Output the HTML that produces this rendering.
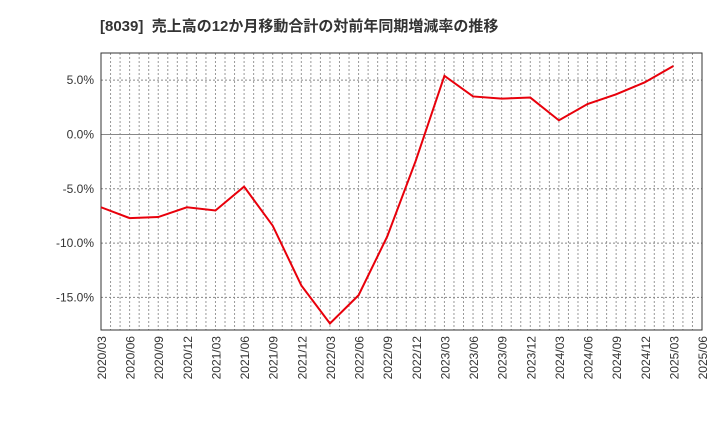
<!DOCTYPE html>
<html><head><meta charset="utf-8"><style>
body{margin:0;background:#fff;font-family:"Liberation Sans","Noto Sans CJK JP",sans-serif;}
</style></head><body>
<svg id="c" width="720" height="440" xmlns="http://www.w3.org/2000/svg">
<text x="100" y="31" font-size="15" font-weight="bold" fill="#333" xml:space="preserve" font-family="Liberation Sans, Noto Sans CJK JP, sans-serif">[8039]  売上高の12か月移動合計の対前年同期増減率の推移</text>
<g id="grid"></g><g id="axes"></g><g id="series"></g>
</svg>
<script>
const categories=["2020/03","2020/06","2020/09","2020/12","2021/03","2021/06","2021/09","2021/12","2022/03","2022/06","2022/09","2022/12","2023/03","2023/06","2023/09","2023/12","2024/03","2024/06","2024/09","2024/12","2025/03","2025/06"];
const values=[-6.7,-7.7,-7.6,-6.7,-7.0,-4.8,-8.4,-13.9,-17.4,-14.8,-9.4,-2.4,5.4,3.5,3.3,3.4,1.3,2.8,3.7,4.8,6.3];
const yTicks=[5,0,-5,-10,-15];
const ns="http://www.w3.org/2000/svg";
const L=101,R=702,T=53,B=330,yMax=7.5,yMin=-18.0;
const x=i=>L+(R-L)*i/(categories.length-1);
const y=v=>T+(B-T)*(yMax-v)/(yMax-yMin);
function mk(tag,attrs,parent){const e=document.createElementNS(ns,tag);for(const k in attrs)e.setAttribute(k,attrs[k]);document.getElementById(parent).appendChild(e);return e;}
const n=(categories.length-1)*3;
for(let j=1;j<n;j++){const xx=L+(R-L)*j/n;
const g=mk('line',{x1:xx,x2:xx,y1:T,y2:B,stroke:'#999','stroke-dasharray':'2,2','stroke-width':1},'grid');

}
yTicks.forEach(t=>{const yy=y(t);
const g=mk('line',{x1:L,x2:R,y1:yy,y2:yy,stroke:'#888','stroke-dasharray':t===0?'':'2,2','stroke-width':1},'grid');


const tx=mk('text',{x:L-7,y:yy+4,'font-size':12,'text-anchor':'end',fill:'#333'},'axes');
tx.textContent=t.toFixed(1)+'%';

});
const fr=mk('rect',{x:L,y:T,width:R-L,height:B-T,fill:'none',stroke:'#333','stroke-width':1},'axes');


categories.forEach((c,i)=>{const xx=x(i);
const tx=mk('text',{x:0,y:0,'font-size':12,'text-anchor':'end',fill:'#333',transform:`translate(${xx+5},${B+6}) rotate(-90)`},'axes');
tx.textContent=c;

});
const p=mk('polyline',{points:values.map((v,i)=>x(i)+','+y(v)).join(' '),fill:'none',stroke:'#e8000b','stroke-width':2},'series');


</script>
</body></html>
